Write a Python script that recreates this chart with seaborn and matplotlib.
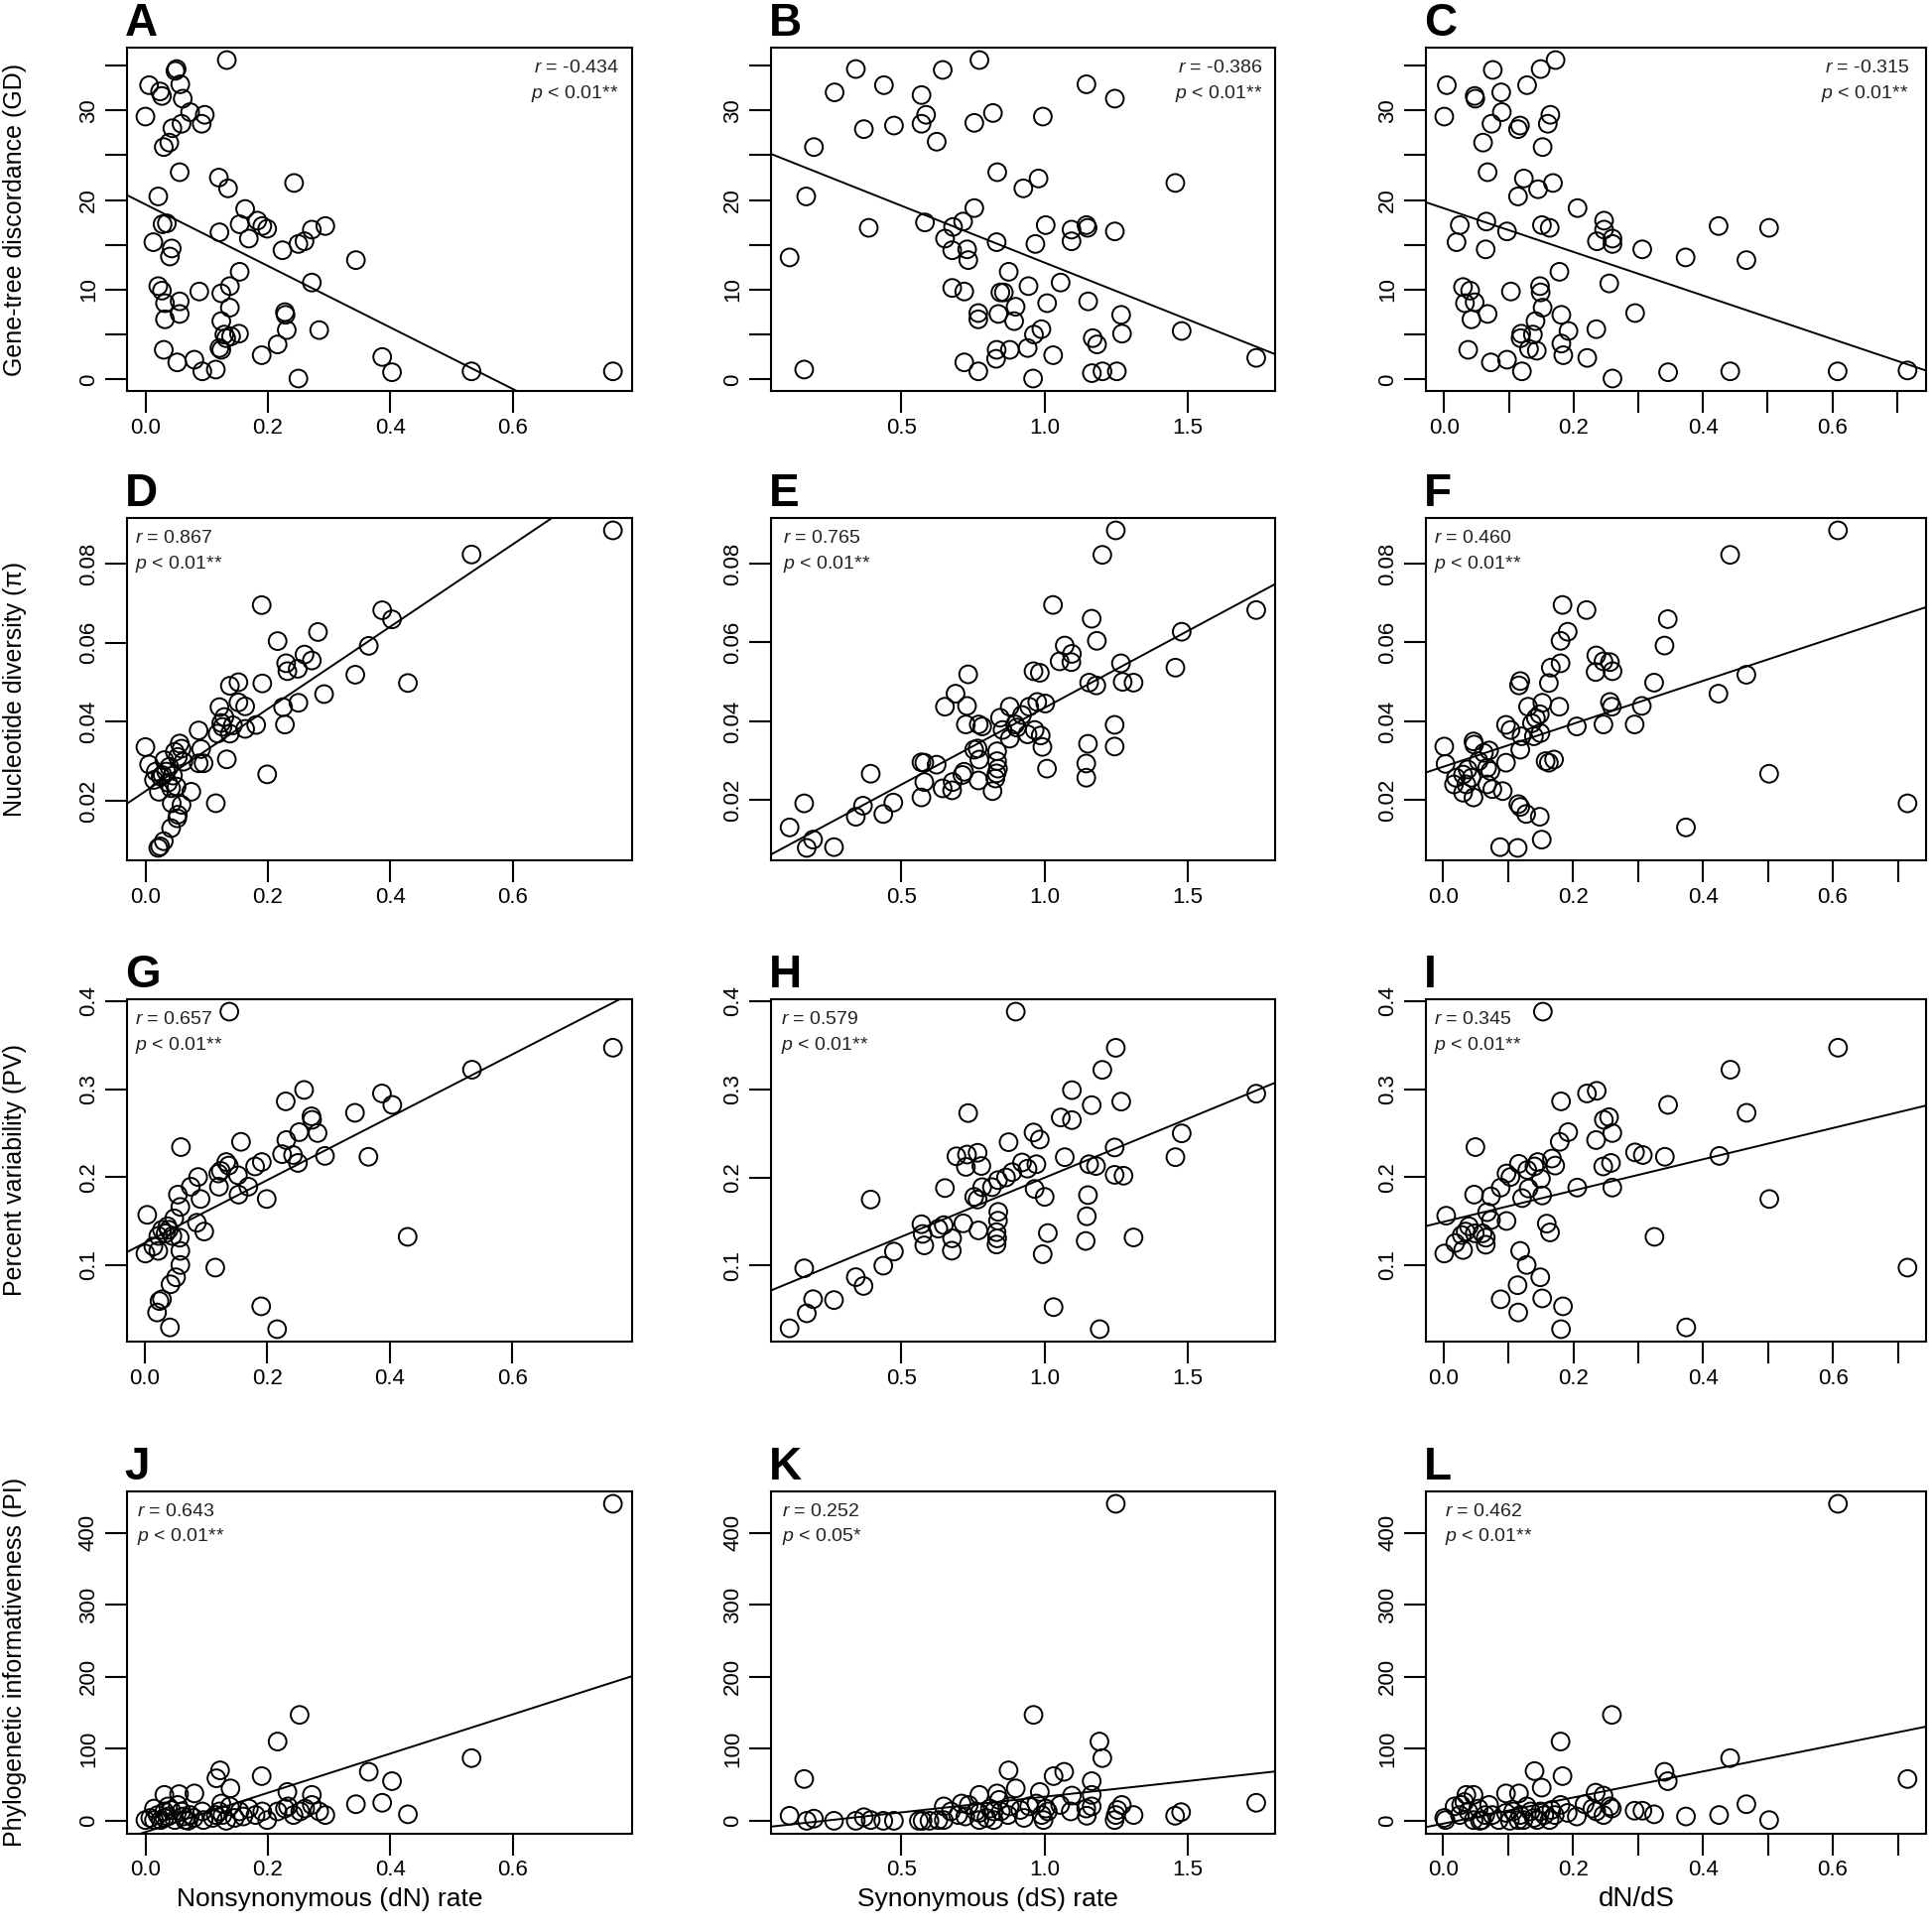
import numpy as np
import matplotlib
matplotlib.use("Agg")
import matplotlib.pyplot as plt
import seaborn as sns

sns.set_theme(style="ticks")
plt.rcParams['font.family'] = ['Liberation Sans', 'DejaVu Sans']
plt.rcParams['mathtext.fontset'] = 'custom'
plt.rcParams['mathtext.rm'] = 'Liberation Sans'
plt.rcParams['mathtext.it'] = 'Liberation Sans:italic'

# ---------------- data (x, y) per panel ----------------
pts_A = [(0.133,35.6),(0.051,34.6),(0.049,34.4),(0.006,32.8),(0.057,32.9),(0.024,32.1),(0.027,31.6),(0.061,31.3),(0.000,29.3),(0.073,29.8),(0.097,29.5),(0.092,28.5),(0.059,28.5),(0.044,28.0),(0.039,26.4),(0.030,25.9),(0.056,23.1),(0.120,22.5),(0.135,21.3),(0.243,21.9),(0.021,20.4),(0.163,19.0),(0.183,17.7),(0.035,17.4),(0.028,17.3),(0.154,17.3),(0.191,17.1),(0.199,16.8),(0.121,16.4),(0.294,17.1),(0.272,16.7),(0.260,15.4),(0.250,15.1),(0.169,15.7),(0.013,15.3),(0.043,14.6),(0.040,13.7),(0.224,14.4),(0.344,13.3),(0.154,12.0),(0.272,10.8),(0.021,10.4),(0.027,9.9),(0.088,9.8),(0.138,10.4),(0.124,9.6),(0.056,8.7),(0.032,8.5),(0.138,8.0),(0.056,7.3),(0.032,6.7),(0.228,7.5),(0.229,7.2),(0.124,6.5),(0.284,5.5),(0.231,5.5),(0.129,5.0),(0.153,5.1),(0.140,4.8),(0.132,4.6),(0.216,3.9),(0.121,3.5),(0.124,3.3),(0.030,3.3),(0.190,2.7),(0.387,2.5),(0.080,2.2),(0.052,1.9),(0.403,0.8),(0.533,0.9),(0.764,0.9),(0.093,0.9),(0.115,1.1),(0.250,0.1)]
pts_B = [(0.773,35.6),(0.342,34.6),(0.645,34.5),(0.268,32.0),(0.440,32.8),(1.146,32.9),(1.245,31.3),(0.571,31.7),(0.587,29.5),(0.571,28.5),(0.370,27.9),(0.475,28.3),(0.755,28.6),(0.820,29.7),(0.994,29.3),(0.624,26.5),(0.196,25.9),(0.835,23.1),(0.979,22.4),(0.926,21.3),(1.456,21.9),(0.169,20.4),(0.755,19.1),(0.583,17.5),(0.716,17.6),(0.681,17.0),(0.387,16.9),(1.004,17.2),(1.146,17.2),(1.150,16.9),(1.094,16.7),(1.245,16.5),(1.094,15.4),(0.653,15.7),(0.833,15.3),(0.968,15.1),(0.678,14.4),(0.730,14.5),(0.734,13.3),(0.111,13.6),(0.875,12.0),(1.056,10.8),(0.678,10.2),(0.720,9.8),(0.944,10.4),(0.846,9.7),(0.858,9.7),(1.009,8.5),(1.152,8.7),(0.899,8.1),(0.769,7.4),(0.769,6.7),(0.839,7.3),(0.894,6.5),(1.267,7.2),(1.270,5.1),(1.478,5.4),(0.989,5.6),(0.963,5.0),(1.168,4.6),(1.183,3.9),(0.833,3.3),(0.879,3.3),(0.941,3.5),(0.831,2.3),(0.720,1.9),(1.030,2.7),(1.738,2.4),(0.769,0.9),(0.162,1.1),(1.165,0.7),(1.202,0.9),(1.252,0.9),(0.960,0.1)]
pts_C = [(0.172,35.6),(0.075,34.5),(0.149,34.6),(0.004,32.8),(0.128,32.8),(0.047,31.6),(0.048,31.3),(0.088,32.0),(0.000,29.3),(0.089,29.8),(0.073,28.5),(0.117,28.3),(0.114,27.9),(0.164,29.5),(0.160,28.5),(0.060,26.4),(0.152,25.9),(0.067,23.1),(0.123,22.4),(0.145,21.2),(0.168,21.9),(0.114,20.4),(0.206,19.1),(0.024,17.2),(0.065,17.6),(0.097,16.5),(0.151,17.2),(0.163,16.9),(0.424,17.1),(0.502,16.9),(0.247,17.7),(0.247,16.7),(0.236,15.4),(0.260,15.7),(0.260,15.1),(0.019,15.3),(0.064,14.5),(0.306,14.5),(0.373,13.6),(0.467,13.3),(0.178,12.0),(0.255,10.7),(0.029,10.3),(0.040,9.9),(0.148,10.4),(0.149,9.7),(0.103,9.8),(0.032,8.5),(0.047,8.6),(0.152,8.0),(0.067,7.3),(0.042,6.7),(0.181,7.2),(0.295,7.4),(0.141,6.5),(0.192,5.4),(0.235,5.6),(0.119,5.1),(0.137,5.0),(0.118,4.6),(0.181,4.0),(0.131,3.4),(0.143,3.2),(0.037,3.3),(0.184,2.7),(0.221,2.4),(0.072,1.9),(0.097,2.2),(0.120,0.9),(0.346,0.8),(0.442,0.9),(0.608,0.9),(0.716,1.0),(0.260,0.1)]
pts_D = [(0.764,0.0884),(0.533,0.0823),(0.190,0.0695),(0.387,0.0682),(0.403,0.0659),(0.282,0.0627),(0.216,0.0604),(0.365,0.0592),(0.260,0.0570),(0.272,0.0555),(0.230,0.0548),(0.232,0.0528),(0.249,0.0534),(0.343,0.0519),(0.429,0.0498),(0.191,0.0497),(0.138,0.0491),(0.152,0.0500),(0.292,0.0470),(0.250,0.0448),(0.225,0.0437),(0.152,0.0449),(0.163,0.0439),(0.121,0.0437),(0.129,0.0412),(0.228,0.0393),(0.181,0.0392),(0.163,0.0382),(0.124,0.0397),(0.126,0.0387),(0.138,0.0370),(0.118,0.0370),(0.087,0.0378),(0.056,0.0345),(0.059,0.0332),(0.000,0.0336),(0.091,0.0331),(0.133,0.0305),(0.087,0.0295),(0.095,0.0295),(0.006,0.0292),(0.062,0.0299),(0.039,0.0286),(0.034,0.0274),(0.028,0.0265),(0.045,0.0264),(0.199,0.0267),(0.014,0.0253),(0.037,0.0246),(0.051,0.0236),(0.075,0.0223),(0.022,0.0223),(0.042,0.0232),(0.115,0.0194),(0.043,0.0194),(0.059,0.0190),(0.053,0.0165),(0.052,0.0156),(0.042,0.0131),(0.030,0.0098),(0.021,0.0081),(0.024,0.0085),(0.031,0.0303),(0.017,0.0274),(0.025,0.0261),(0.048,0.0324),(0.053,0.0311),(0.143,0.0391)]
pts_E = [(1.249,0.0884),(1.202,0.0822),(1.030,0.0695),(1.165,0.0660),(1.739,0.0682),(1.183,0.0604),(1.479,0.0627),(1.071,0.0592),(1.096,0.0571),(1.053,0.0552),(1.094,0.0550),(1.267,0.0547),(1.457,0.0536),(0.962,0.0527),(0.984,0.0523),(0.734,0.0519),(1.156,0.0498),(1.181,0.0491),(1.273,0.0500),(1.311,0.0498),(0.690,0.0470),(0.653,0.0437),(0.730,0.0439),(0.879,0.0437),(0.947,0.0437),(0.975,0.0449),(1.003,0.0445),(0.845,0.0409),(0.922,0.0416),(0.726,0.0392),(0.771,0.0392),(0.783,0.0387),(0.854,0.0378),(0.898,0.0392),(0.904,0.0384),(0.966,0.0378),(1.245,0.0391),(0.879,0.0356),(0.941,0.0367),(0.987,0.0364),(0.993,0.0335),(1.152,0.0343),(1.245,0.0336),(0.755,0.0328),(0.767,0.0331),(0.835,0.0324),(0.773,0.0303),(0.835,0.0299),(1.146,0.0293),(0.571,0.0296),(0.581,0.0295),(0.624,0.0290),(1.009,0.0280),(0.838,0.0280),(0.833,0.0268),(0.720,0.0272),(0.714,0.0264),(1.146,0.0257),(0.829,0.0255),(0.770,0.0250),(0.394,0.0267),(0.581,0.0246),(0.680,0.0246),(0.645,0.0230),(0.678,0.0225),(0.819,0.0223),(0.571,0.0207),(0.473,0.0194),(0.367,0.0186),(0.162,0.0192),(0.342,0.0158),(0.438,0.0165),(0.111,0.0131),(0.193,0.0100),(0.171,0.0079),(0.266,0.0081)]
pts_F = [(0.608,0.0884),(0.442,0.0822),(0.184,0.0695),(0.221,0.0682),(0.346,0.0659),(0.341,0.0592),(0.192,0.0627),(0.181,0.0604),(0.236,0.0567),(0.247,0.0552),(0.257,0.0550),(0.235,0.0525),(0.261,0.0527),(0.181,0.0547),(0.166,0.0536),(0.467,0.0518),(0.163,0.0497),(0.119,0.0502),(0.117,0.0491),(0.325,0.0498),(0.424,0.0470),(0.257,0.0449),(0.260,0.0437),(0.306,0.0439),(0.179,0.0437),(0.131,0.0437),(0.153,0.0447),(0.149,0.0418),(0.143,0.0408),(0.137,0.0395),(0.206,0.0387),(0.247,0.0392),(0.295,0.0392),(0.097,0.0391),(0.104,0.0378),(0.150,0.0370),(0.140,0.0362),(0.121,0.0362),(0.119,0.0328),(0.071,0.0326),(0.048,0.0341),(0.047,0.0349),(0.002,0.0336),(0.004,0.0292),(0.097,0.0295),(0.163,0.0295),(0.171,0.0303),(0.158,0.0299),(0.063,0.0320),(0.068,0.0282),(0.073,0.0274),(0.038,0.0278),(0.031,0.0265),(0.020,0.0257),(0.044,0.0257),(0.017,0.0240),(0.036,0.0240),(0.068,0.0240),(0.076,0.0228),(0.092,0.0223),(0.031,0.0219),(0.047,0.0207),(0.116,0.0190),(0.119,0.0183),(0.128,0.0165),(0.149,0.0158),(0.502,0.0267),(0.715,0.0192),(0.374,0.0131),(0.152,0.0100),(0.088,0.0081),(0.115,0.0079),(0.055,0.0299)]
pts_G = [(0.138,0.388),(0.764,0.347),(0.534,0.322),(0.260,0.299),(0.230,0.286),(0.387,0.295),(0.404,0.282),(0.343,0.273),(0.272,0.269),(0.273,0.265),(0.282,0.250),(0.252,0.251),(0.231,0.242),(0.059,0.234),(0.157,0.240),(0.224,0.226),(0.242,0.225),(0.250,0.216),(0.294,0.224),(0.365,0.223),(0.191,0.217),(0.180,0.212),(0.133,0.217),(0.137,0.213),(0.124,0.207),(0.120,0.204),(0.152,0.202),(0.087,0.200),(0.075,0.189),(0.121,0.189),(0.169,0.189),(0.153,0.180),(0.199,0.175),(0.091,0.175),(0.054,0.180),(0.058,0.166),(0.048,0.153),(0.004,0.157),(0.085,0.148),(0.097,0.138),(0.028,0.140),(0.034,0.136),(0.039,0.140),(0.022,0.133),(0.057,0.131),(0.429,0.132),(0.014,0.121),(0.001,0.113),(0.022,0.116),(0.058,0.116),(0.058,0.100),(0.115,0.097),(0.051,0.086),(0.042,0.078),(0.028,0.061),(0.024,0.059),(0.020,0.046),(0.041,0.029),(0.190,0.053),(0.216,0.027),(0.037,0.144),(0.045,0.133)]
pts_H = [(0.900,0.388),(1.249,0.347),(1.202,0.322),(1.096,0.299),(1.739,0.295),(1.165,0.282),(1.268,0.286),(0.734,0.273),(1.057,0.268),(1.096,0.265),(1.479,0.250),(0.962,0.251),(0.984,0.243),(0.875,0.240),(1.245,0.234),(1.457,0.223),(1.071,0.223),(0.693,0.224),(0.730,0.226),(0.767,0.228),(0.780,0.213),(0.726,0.212),(0.922,0.217),(0.972,0.215),(0.941,0.210),(1.156,0.215),(1.180,0.213),(0.888,0.206),(0.866,0.200),(0.838,0.197),(1.245,0.203),(1.276,0.202),(0.653,0.188),(0.783,0.189),(0.817,0.189),(0.966,0.187),(1.001,0.178),(1.152,0.180),(0.755,0.178),(0.767,0.175),(0.394,0.175),(0.839,0.161),(1.148,0.156),(0.838,0.151),(0.571,0.147),(0.717,0.148),(0.649,0.146),(0.630,0.142),(0.770,0.140),(0.575,0.136),(0.833,0.138),(0.835,0.131),(1.012,0.137),(1.311,0.132),(1.144,0.128),(0.678,0.131),(0.833,0.124),(0.581,0.123),(0.677,0.117),(0.475,0.116),(0.994,0.113),(0.438,0.100),(0.162,0.097),(0.342,0.087),(0.369,0.077),(0.193,0.062),(0.266,0.061),(0.171,0.046),(0.111,0.029),(1.032,0.053),(1.193,0.028)]
pts_I = [(0.153,0.388),(0.608,0.347),(0.442,0.322),(0.221,0.295),(0.236,0.298),(0.181,0.286),(0.346,0.282),(0.467,0.273),(0.247,0.265),(0.255,0.268),(0.260,0.250),(0.192,0.251),(0.179,0.240),(0.235,0.242),(0.049,0.234),(0.295,0.228),(0.307,0.225),(0.341,0.223),(0.425,0.224),(0.246,0.212),(0.258,0.216),(0.167,0.221),(0.172,0.213),(0.145,0.217),(0.116,0.215),(0.097,0.204),(0.103,0.200),(0.129,0.208),(0.140,0.212),(0.150,0.198),(0.206,0.188),(0.260,0.188),(0.088,0.188),(0.047,0.180),(0.073,0.178),(0.121,0.176),(0.152,0.179),(0.131,0.187),(0.502,0.175),(0.067,0.160),(0.073,0.151),(0.097,0.150),(0.004,0.156),(0.159,0.147),(0.164,0.137),(0.039,0.144),(0.034,0.138),(0.048,0.136),(0.060,0.136),(0.065,0.123),(0.065,0.131),(0.018,0.125),(0.030,0.117),(0.001,0.113),(0.325,0.132),(0.118,0.116),(0.128,0.100),(0.149,0.086),(0.114,0.077),(0.088,0.061),(0.152,0.062),(0.184,0.053),(0.115,0.046),(0.181,0.027),(0.374,0.029),(0.715,0.097),(0.028,0.134)]
pts_J = [(0.764,440),(0.252,147),(0.216,110),(0.533,87),(0.365,68),(0.403,55),(0.190,62),(0.122,70),(0.116,59),(0.139,45),(0.232,40),(0.272,36),(0.080,38),(0.031,36),(0.055,37),(0.344,23),(0.387,25),(0.429,9),(0.124,24),(0.138,20),(0.228,17),(0.261,17),(0.272,22),(0.284,13),(0.294,8),(0.242,8),(0.216,13),(0.191,13),(0.199,1),(0.169,17),(0.154,13),(0.160,6),(0.132,0),(0.115,8),(0.121,13),(0.093,13),(0.095,1),(0.073,8),(0.059,13),(0.053,22),(0.037,20),(0.014,17),(0.000,1),(0.008,4),(0.025,1),(0.037,6),(0.048,1),(0.065,1),(0.031,13),(0.020,8),(0.079,4),(0.146,4),(0.180,8),(0.253,13),(0.126,8),(0.042,15),(0.062,6),(0.014,1),(0.110,4),(0.070,0),(0.031,4),(0.233,20)]
pts_K = [(1.249,440),(0.962,147),(1.192,110),(1.202,87),(0.875,70),(1.069,68),(1.032,62),(0.162,58),(1.165,55),(0.900,45),(0.984,40),(0.773,36),(0.835,38),(1.165,36),(1.096,35),(1.739,25),(1.270,22),(1.311,8),(1.477,12),(1.456,7),(1.249,8),(1.245,1),(1.146,17),(1.148,7),(1.055,22),(1.092,13),(1.005,17),(0.991,8),(0.997,1),(0.947,20),(0.929,4),(0.879,20),(0.873,8),(0.842,29),(0.823,13),(0.823,1),(0.773,11),(0.773,1),(0.736,22),(0.711,24),(0.674,13),(0.649,20),(0.630,1),(0.599,0),(0.575,0),(0.562,0),(0.475,0),(0.438,0),(0.394,1),(0.370,5),(0.342,0),(0.266,0),(0.196,3),(0.171,0),(0.111,7),(0.972,24),(0.810,17),(0.761,13),(0.699,8),(0.649,1),(0.848,13),(0.916,15),(1.012,13),(1.165,20),(1.255,15),(0.798,4),(0.724,6)]
pts_L = [(0.608,440),(0.260,147),(0.181,110),(0.442,87),(0.341,68),(0.346,55),(0.715,58),(0.141,69),(0.184,62),(0.152,46),(0.235,39),(0.247,35),(0.097,38),(0.117,38),(0.036,36),(0.047,36),(0.467,23),(0.425,8),(0.374,6),(0.502,1),(0.325,9),(0.295,14),(0.307,14),(0.260,17),(0.247,8),(0.236,13),(0.218,23),(0.206,6),(0.192,11),(0.181,22),(0.172,8),(0.164,1),(0.150,13),(0.140,4),(0.129,20),(0.119,8),(0.116,1),(0.097,11),(0.086,1),(0.071,22),(0.065,8),(0.060,1),(0.047,1),(0.039,13),(0.028,22),(0.018,20),(0.026,8),(0.002,4),(0.004,1),(0.055,17),(0.108,13),(0.135,13),(0.156,8),(0.124,1),(0.145,1),(0.167,15),(0.076,8),(0.257,20),(0.230,17),(0.033,26),(0.057,0),(0.103,0)]

panel_letters = list("ABCDEFGHIJKL")
r_values = ["-0.434", "-0.386", "-0.315", "0.867", "0.765", "0.460",
            "0.657", "0.579", "0.345", "0.643", "0.252", "0.462"]
p_texts = ["p < 0.01**"] * 10 + ["p < 0.05*", "p < 0.01**"]

x_titles = ["Nonsynonymous (dN) rate", "Synonymous (dS) rate", "dN/dS"]
y_titles = ["Gene-tree discordance (GD)", "Nucleotide diversity (\u03c0)",
            "Percent variability (PV)", "Phylogenetic informativeness (PI)"]

x_ticks = [[0.0, 0.2, 0.4, 0.6], [0.5, 1.0, 1.5], [0.0, 0.1, 0.2, 0.3, 0.4, 0.5, 0.6, 0.7]]
x_tick_labels = [["0.0", "0.2", "0.4", "0.6"], ["0.5", "1.0", "1.5"],
                 ["0.0", "", "0.2", "", "0.4", "", "0.6", ""]]
y_ticks = [[0, 5, 10, 15, 20, 25, 30, 35], [0.02, 0.04, 0.06, 0.08],
           [0.1, 0.2, 0.3, 0.4], [0, 100, 200, 300, 400]]
y_tick_labels = [["0", "", "10", "", "20", "", "30", ""], ["0.02", "0.04", "0.06", "0.08"],
                 ["0.1", "0.2", "0.3", "0.4"], ["0", "100", "200", "300", "400"]]

all_pts = [pts_A, pts_B, pts_C, pts_D, pts_E, pts_F, pts_G, pts_H, pts_I, pts_J, pts_K, pts_L]

# ---------------- layout (pixels) ----------------
W, H = 1946, 1947
col_lr = [(127.7, 636.5), (776.9, 1284.8), (1436.8, 1941.0)]
row_tb = [(47.7, 394.3), (521.7, 867.3), (1006.7, 1352.3), (1502.7, 1847.7)]
ann_right = {0: 0.974, 1: 0.975, 2: 0.966}
ann_left = [[None, None, None], [0.017, 0.023, 0.016], [0.017, 0.02, 0.016], [0.02, 0.021, 0.038]]

fig = plt.figure(figsize=(W / 100, H / 100), dpi=100)
fig.patch.set_facecolor("white")

for i, pts in enumerate(all_pts):
    r, c = divmod(i, 3)
    l, rr = col_lr[c]
    t, b = row_tb[r]
    ax = fig.add_axes([l / W, 1 - b / H, (rr - l) / W, (b - t) / H])
    arr = np.array(pts, dtype=float)
    x, y = arr[:, 0], arr[:, 1]
    xpad = 0.04 * (x.max() - x.min())
    ypad = 0.04 * (y.max() - y.min())
    xlim = (x.min() - xpad, x.max() + xpad)
    ylim = (y.min() - ypad, y.max() + ypad)
    ax.set_xlim(*xlim)
    ax.set_ylim(*ylim)
    sns.regplot(x=x, y=y, ax=ax, ci=None, truncate=False, color="black",
                scatter_kws=dict(s=165, facecolors="none", edgecolors="black",
                                 linewidths=1.4, alpha=1, zorder=3),
                line_kws=dict(color="black", lw=1.4, zorder=2))
    ax.set_xlim(*xlim)
    ax.set_ylim(*ylim)

    for sp in ax.spines.values():
        sp.set_visible(True)
        sp.set_color("black")
        sp.set_linewidth(1.5)
    ax.set_facecolor("white")

    ax.set_xticks(x_ticks[c])
    ax.set_xticklabels(x_tick_labels[c])
    ax.set_yticks(y_ticks[r])
    ax.set_yticklabels(y_tick_labels[r])
    ax.tick_params(axis="both", which="major", direction="out", length=16, width=1.5,
                   color="black", labelcolor="black", labelsize=16,
                   bottom=True, left=True, top=False, right=False)
    ax.tick_params(axis="x", pad=3)
    ax.tick_params(axis="y", pad=4)
    for lab in ax.get_yticklabels():
        lab.set_rotation(90)
        lab.set_va("center")
        lab.set_ha("right")

    # panel letter
    ax.text(-0.004, 1 + 12 / (b - t), panel_letters[i], transform=ax.transAxes,
            fontsize=33, fontweight="bold", ha="left", va="baseline", color="black")

    # correlation annotation
    r_txt = "$r$ = " + r_values[i]
    p_txt = "$p$" + p_texts[i][1:]
    if r == 0:
        xa, ha = ann_right[c], "right"
    else:
        xa, ha = ann_left[r][c], "left"
    ax.text(xa, 0.927, r_txt, transform=ax.transAxes, fontsize=14, ha=ha,
            va="baseline", color="#222222")
    ax.text(xa, 0.853, p_txt, transform=ax.transAxes, fontsize=14, ha=ha,
            va="baseline", color="#222222")

# axis titles
for r, title in enumerate(y_titles):
    t, b = row_tb[r]
    fig.text(15 / W, 1 - (t + b) / 2 / H, title, rotation=90, ha="center", va="center",
             fontsize=18, color="black")
x_sizes = [19, 19, 20]
x_shift = [-50, -35, -40]
for c, title in enumerate(x_titles):
    l, rr = col_lr[c]
    cx = (l + rr) / 2 + x_shift[c]
    fig.text(cx / W, 1 - 1914 / H, title, ha="center", va="center",
             fontsize=x_sizes[c], color="black")

fig.savefig("out.png", dpi=100, facecolor="white")
